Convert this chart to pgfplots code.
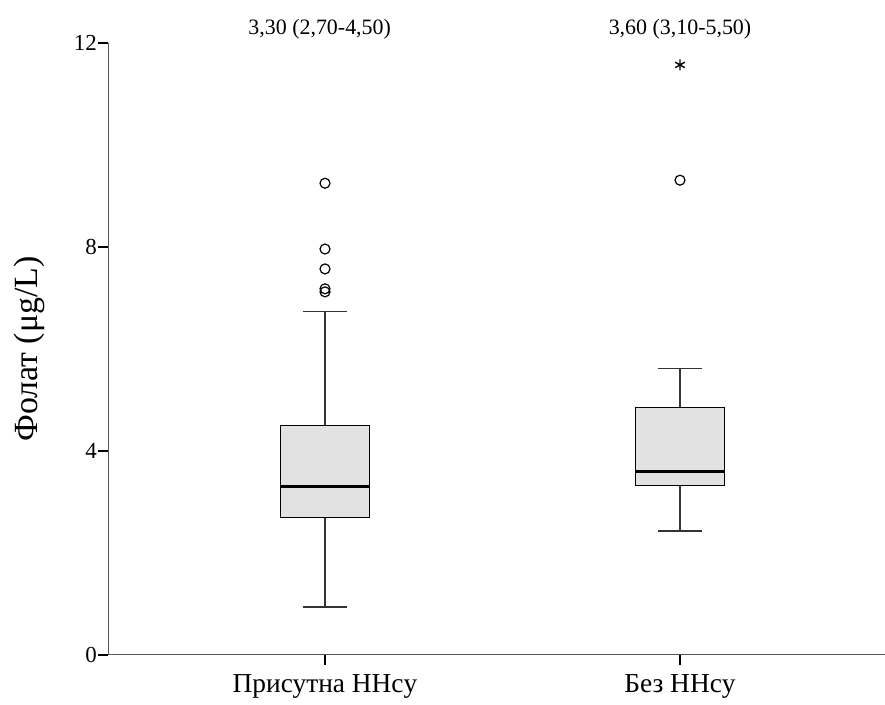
\documentclass[border=0pt]{standalone}
\usepackage{fontspec}
\setmainfont{Liberation Serif}
\usepackage{pgfplots}
\pgfplotsset{compat=1.18}
\usepgfplotslibrary{statistics}
\definecolor{boxfill}{HTML}{E2E2E2}
\definecolor{axisgray}{HTML}{555555}
\begin{document}
\begin{tikzpicture}[x=1bp,y=1bp]
\useasboundingbox (0,0) rectangle (885,705);
\begin{axis}[
  at={(108bp,50bp)}, anchor=south west,
  scale only axis, width=777bp, height=612bp,
  xmin=0.3887, xmax=2.5775, ymin=0, ymax=12,
  axis lines*=left,
  axis line style={line width=1bp, axisgray},
  ytick={0,4,8,12}, xtick={1,2},
  xticklabels={Присутна HHcy, Без HHcy},
  tick align=outside, major tick length=10bp,
  tick style={line width=1.1bp, black},
  /pgf/number format/assume math mode=true,
  x tick label style={font=\fontsize{27.5}{31}\selectfont, yshift=-6bp},
  y tick label style={font=\fontsize{23}{27}\selectfont, inner sep=1bp},
  ylabel={Фолат (μg/L)},
  ylabel style={font=\fontsize{34}{39}\selectfont, at={(axis description cs:-0.101,0.5)}, anchor=center},
  clip=false,
  boxplot/draw direction=y,
  boxplot/box extend=0.25,
  boxplot/whisker extend=0.125,
  boxplot/every box/.style={draw=black, fill=boxfill, line width=1.2bp},
  boxplot/every median/.style={draw=black, line width=3.5bp},
  boxplot/every whisker/.style={draw=black!80, line width=1.2bp},
]
% Присутна HHcy
\addplot[boxplot prepared={draw position=1,
    lower whisker=0.94, lower quartile=2.70, median=3.30,
    upper quartile=4.50, upper whisker=6.73},
  mark=o, mark size=5bp, mark options={line width=1.2bp, draw=black}]
  coordinates {(0,9.25) (0,7.96) (0,7.57) (0,7.18) (0,7.12)};
% Без HHcy
\addplot[boxplot prepared={draw position=2,
    lower whisker=2.43, lower quartile=3.33, median=3.60,
    upper quartile=4.86, upper whisker=5.62},
  mark=o, mark size=5bp, mark options={line width=1.2bp, draw=black}]
  coordinates {(0,9.31)};
% extreme value
\addplot[only marks, mark=asterisk, mark size=5.5bp, mark options={line width=1.4bp}, black]
  coordinates {(2,11.57)};
\node[anchor=base, yshift=8bp, font=\fontsize{22}{26}\selectfont] at (axis cs:0.985,12) {3,30 (2,70-4,50)};
\node[anchor=base, yshift=8bp, font=\fontsize{22}{26}\selectfont] at (axis cs:2,12) {3,60 (3,10-5,50)};
\end{axis}
\end{tikzpicture}
\end{document}
